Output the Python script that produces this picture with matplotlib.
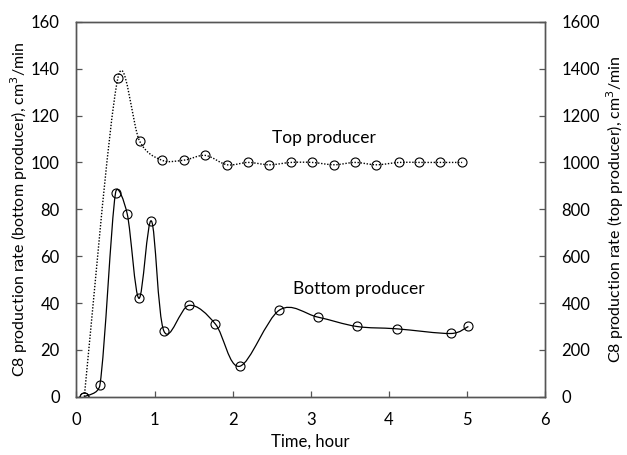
import numpy as np
import matplotlib
matplotlib.use("Agg")
import matplotlib.pyplot as plt
from matplotlib.path import Path
from matplotlib.patches import PathPatch

plt.rcParams['font.family'] = ['Lato', 'DejaVu Sans']

# Bottom producer (left axis, cm3/min)
bottom_time = [0.10, 0.30, 0.50, 0.65, 0.80, 0.96, 1.12, 1.44, 1.78, 2.09,
               2.60, 3.09, 3.59, 4.10, 4.80, 5.02]
bottom_rate = [0, 5, 87, 78, 42, 75, 28, 39, 31, 13,
               37, 34, 30, 29, 27, 30]

# Top producer (right axis, cm3/min)
top_time = [0.10, 0.53, 0.81, 1.09, 1.38, 1.65, 1.93, 2.20, 2.47, 2.75,
            3.02, 3.30, 3.57, 3.84, 4.13, 4.39, 4.66, 4.94]
top_rate = [0, 1360, 1090, 1010, 1010, 1030, 990, 1000, 990, 1000,
            1000, 990, 1000, 990, 1000, 1000, 1000, 1000]

x_ticks = [0, 1, 2, 3, 4, 5, 6]
left_ticks = [0, 20, 40, 60, 80, 100, 120, 140, 160]
right_ticks = [0, 200, 400, 600, 800, 1000, 1200, 1400, 1600]


def smooth_path(axis, xs, ys):
    """Spreadsheet-style smoothed line: cubic Bezier segments whose control
    handles are 1/6 of the neighbour chord, capped at half the segment length
    (measured on screen)."""
    trans = axis.transData
    p = trans.transform(np.column_stack([xs, ys]).astype(float))
    n = len(p)
    verts = [p[0]]
    codes = [Path.MOVETO]
    for i in range(n - 1):
        p0 = p[i - 1] if i > 0 else p[i]
        p1 = p[i]
        p2 = p[i + 1]
        p3 = p[i + 2] if i + 2 < n else p[i + 1]
        d02 = np.hypot(*(p2 - p0))
        d12 = np.hypot(*(p2 - p1))
        d13 = np.hypot(*(p3 - p1))
        f1 = 1 / 6 if d02 / 6 < d12 / 2 else (d12 / d02 / 2 if d02 > 0 else 0)
        f2 = 1 / 6 if d13 / 6 < d12 / 2 else (d12 / d13 / 2 if d13 > 0 else 0)
        c1 = p1 + (p2 - p0) * f1
        c2 = p2 - (p3 - p1) * f2
        verts += [c1, c2, p2]
        codes += [Path.CURVE4] * 3
    verts = trans.inverted().transform(np.array(verts))
    return Path(verts, codes)


fig = plt.figure(figsize=(6.27, 4.55), dpi=100)
ax = fig.add_axes([0.122, 0.128, 0.747, 0.824])
ax2 = ax.twinx()

ax.set_xlim(0, 6)
ax.set_ylim(0, 160)
ax2.set_ylim(0, 1600)

ax.add_patch(PathPatch(smooth_path(ax, bottom_time, bottom_rate),
                       facecolor='none', edgecolor='black', lw=0.9))
ax.plot(bottom_time, bottom_rate, linestyle='none', marker='o', ms=6.5,
        mfc='none', mec='black', mew=0.8)

ax2.add_patch(PathPatch(smooth_path(ax2, top_time, top_rate),
                        facecolor='none', edgecolor='black', lw=1.0,
                        linestyle=(0, (1, 1.2))))
ax2.plot(top_time, top_rate, linestyle='none', marker='o', ms=6.5,
         mfc='none', mec='black', mew=0.8)

fs = 12
ax.set_xticks(x_ticks)
ax.set_yticks(left_ticks)
ax2.set_yticks(right_ticks)
ax.tick_params(axis='x', direction='in', length=4.3, width=0.9,
               color='#555555', labelsize=fs, pad=11)
ax.tick_params(axis='y', direction='in', length=4.3, width=0.9,
               color='#555555', labelsize=fs, pad=12)
ax2.tick_params(axis='y', direction='in', length=4.3, width=0.9,
                color='#555555', labelsize=fs, pad=12)
for a in (ax, ax2):
    for s in a.spines.values():
        s.set_linewidth(1.0)
        s.set_color('#555555')

ax.set_xlabel('Time, hour', fontsize=fs, labelpad=4)
ax.set_ylabel('C8 production rate (bottom producer), cm$^3$/min',
              fontsize=11.5, labelpad=1)
ax2.set_ylabel('C8 production rate (top producer), cm$^3$/min',
               fontsize=11.5, rotation=90, labelpad=3)

ax.text(2.50, 110.3, 'Top producer', fontsize=12.5, va='center', ha='left')
ax.text(2.77, 45.9, 'Bottom producer', fontsize=12.5, va='center', ha='left')

fig.savefig('out.png', dpi=100)
